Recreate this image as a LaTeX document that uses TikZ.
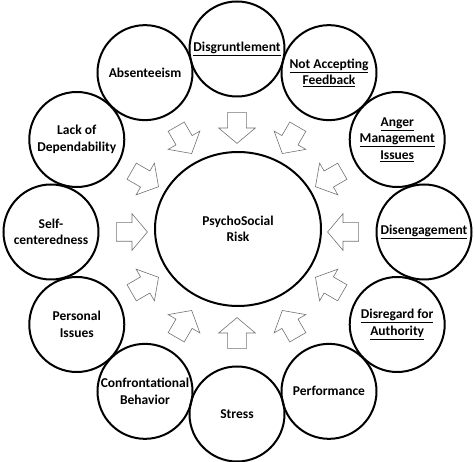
\documentclass[tikz,border=0pt]{standalone}
\usepackage{fontspec}
\setmainfont{Carlito}
\usetikzlibrary{shapes.geometric,shapes.arrows}
\tikzset{
	x=1pt, y=1pt,
	riskball/.style={circle, draw, line width=2pt, minimum size=95pt, inner sep=0pt, align=center,
		font=\bfseries\fontsize{13.5}{16.5}\selectfont},
	riskarrow/.style={single arrow, draw=black!55, line width=0.6pt, fill=white,
		minimum height=31pt, inner xsep=0pt, inner ysep=9pt,
		single arrow head extend=9pt, single arrow tip angle=100},
}

\begin{document}
\begin{tikzpicture}
		%%%%% START %%%%%
		\useasboundingbox (-237, -230) rectangle (237, 232);
		
		\node[ellipse, draw, line width=2pt, minimum width=166pt, minimum height=154pt, align=center,
			font=\bfseries\fontsize{13.5}{16.5}\selectfont] (risk) at (1, 3) {PsychoSocial\\Risk};
		
		\node[riskball] (disgruntlement) at (90:183) {\underline{Disgruntlement}};
		\node[riskball] (feedback) at (60:184) {\underline{Not Accepting}\\\underline{Feedback}};
		\node[riskball] (anger) at (30:185) {\underline{Anger}\\\underline{Management}\\\underline{Issues}};
		\node[riskball] (disengagement) at (0:187) {\underline{Disengagement}};
		\node[riskball] (authority) at (-30:185) {\underline{Disregard for}\\\underline{Authority}};
		\node[riskball] (performance) at (-60:184) {Performance};
		\node[riskball] (stress) at (-90:182) {Stress};
		\node[riskball] (confront) at (-120:184) {Confrontational\\Behavior};
		\node[riskball] (personal) at (-150:185) {Personal\\Issues};
		\node[riskball] (self) at (180:186) {Self-\\centeredness};
		\node[riskball] (dependability) at (150:185) {Lack of\\Dependability};
		\node[riskball] (absenteeism) at (120:184) {Absenteeism};
		
		\node[riskarrow, rotate=270] (a1) at (90:108) {};
		\node[riskarrow, rotate=240] (a2) at (60:110) {};
		\node[riskarrow, rotate=210] (a3) at (30:110) {};
		\node[riskarrow, rotate=180] (a4) at (0:110) {};
		\node[riskarrow, rotate=150] (a5) at (-30:110) {};
		\node[riskarrow, rotate=120] (a6) at (-60:110) {};
		\node[riskarrow, rotate=90] (a7) at (-90:105) {};
		\node[riskarrow, rotate=60] (a8) at (-120:110) {};
		\node[riskarrow, rotate=30] (a9) at (-150:110) {};
		\node[riskarrow, rotate=0] (a10) at (180:109) {};
		\node[riskarrow, rotate=-30] (a11) at (150:110) {};
		\node[riskarrow, rotate=-60] (a12) at (120:110) {};
		
		%%%%% END %%%%%
\end{tikzpicture}
\end{document}
